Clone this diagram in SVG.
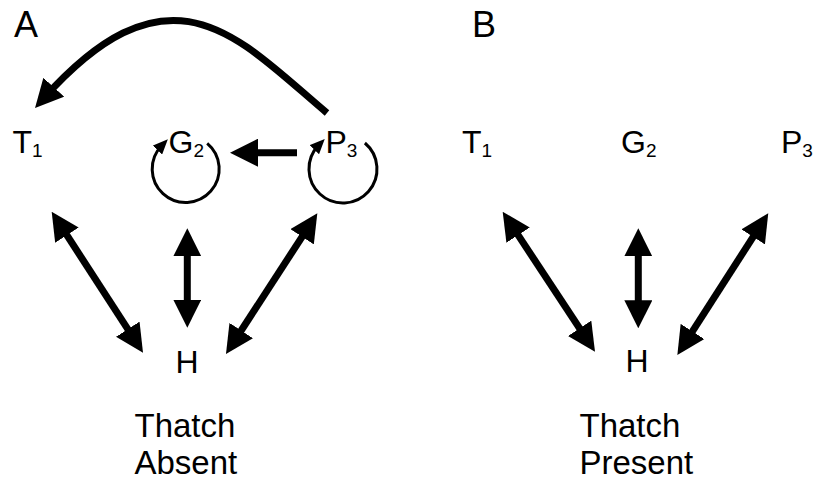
<svg xmlns="http://www.w3.org/2000/svg" width="814" height="479" viewBox="0 0 814 479">
  <style>
    text { font-family: "Liberation Sans", Arial, sans-serif; fill: #000; }
    .panel { font-size: 36px; }
    .node { font-size: 32px; }
    .sub { font-size: 19px; }
    .cap { font-size: 33px; }
    .thick { fill: none; stroke: #000; stroke-width: 7; }
    .loop { fill: none; stroke: #000; stroke-width: 3; }
  </style>
  <defs>
    <marker id="head" viewBox="0 0 28 28" markerWidth="28" markerHeight="28" refX="14" refY="14" orient="auto-start-reverse" markerUnits="userSpaceOnUse">
      <path d="M0,0 L28,14 L0,28 Z" fill="#000"/>
    </marker>
    <marker id="small" viewBox="0 0 15 13" markerWidth="15" markerHeight="13" refX="6" refY="6.5" orient="auto" markerUnits="userSpaceOnUse">
      <path d="M0,0 L15,6.5 L0,13 Z" fill="#000"/>
    </marker>
  </defs>

  <rect width="814" height="479" fill="#fff"/>

  <!-- panel letters -->
  <text class="panel" x="14" y="37">A</text>
  <text class="panel" x="472" y="37">B</text>

  <!-- panel A nodes -->
  <g id="a-T1"><text class="node" x="12.4" y="153">T<tspan class="sub" dy="4">1</tspan></text></g>
  <g id="a-G2"><text class="node" x="168.5" y="153">G<tspan class="sub" dy="4">2</tspan></text></g>
  <g id="a-P3"><text class="node" x="325.5" y="153">P<tspan class="sub" dy="4">3</tspan></text></g>
  <g id="a-H"><text class="node" x="175.5" y="373">H</text></g>
  <g id="a-caption">
    <text class="cap" x="134.5" y="437">Thatch</text>
    <text class="cap" x="134.5" y="474">Absent</text>
  </g>

  <!-- panel B nodes -->
  <g id="b-T1"><text class="node" x="462" y="153">T<tspan class="sub" dy="4">1</tspan></text></g>
  <g id="b-G2"><text class="node" x="621" y="153">G<tspan class="sub" dy="4">2</tspan></text></g>
  <g id="b-P3"><text class="node" x="781" y="153">P<tspan class="sub" dy="4">3</tspan></text></g>
  <g id="b-H"><text class="node" x="625.5" y="372">H</text></g>
  <g id="b-caption">
    <text class="cap" x="579.5" y="437">Thatch</text>
    <text class="cap" x="579.5" y="474">Present</text>
  </g>

  <g id="connectors">
    <!-- panel A -->
    <path class="thick" d="M327,113 C240,40 172.8,-45 44.4,97.6" marker-end="url(#head)"/>
    <line class="thick" x1="297" y1="152.7" x2="244" y2="152.7" marker-end="url(#head)"/>
    <path class="loop" d="M207.2,143.3 A33.5,33.5 0 1 1 161.6,145.7" marker-end="url(#small)"/>
    <path class="loop" d="M364.9,143 A34,34 0 1 1 318.5,145.4" marker-end="url(#small)"/>
    <line class="thick" x1="59.3" y1="223.45" x2="135.4" y2="340.95" marker-start="url(#head)" marker-end="url(#head)"/>
    <line class="thick" x1="187.3" y1="242.3" x2="187.3" y2="313.7" marker-start="url(#head)" marker-end="url(#head)"/>
    <line class="thick" x1="309.7" y1="225.05" x2="233.6" y2="342.25" marker-start="url(#head)" marker-end="url(#head)"/>

    <!-- panel B -->
    <line class="thick" x1="510.4" y1="223.4" x2="587.3" y2="340" marker-start="url(#head)" marker-end="url(#head)"/>
    <line class="thick" x1="638.3" y1="242.3" x2="638.3" y2="314.3" marker-start="url(#head)" marker-end="url(#head)"/>
    <line class="thick" x1="760.7" y1="225.1" x2="684.9" y2="343.2" marker-start="url(#head)" marker-end="url(#head)"/>
  </g>
</svg>
